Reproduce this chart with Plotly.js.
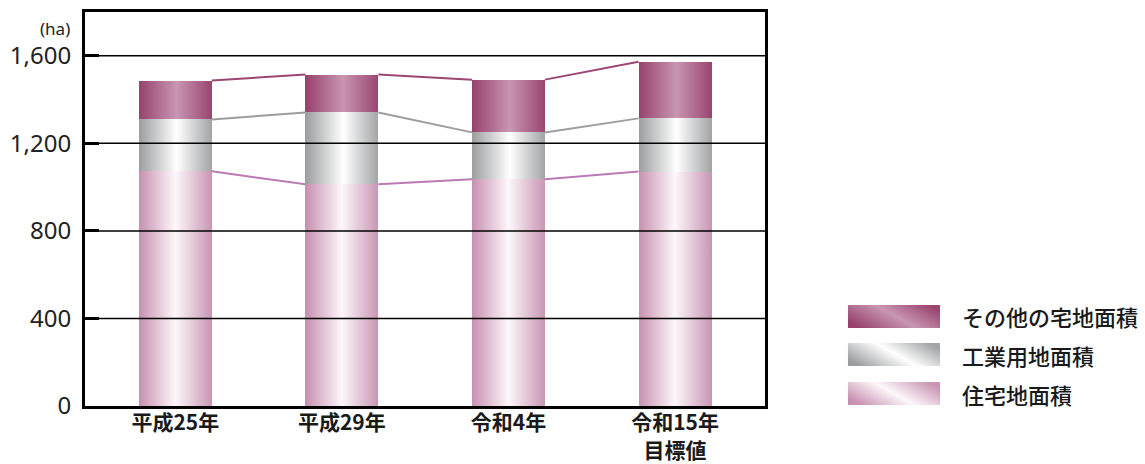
<!DOCTYPE html>
<html>
<head>
<meta charset="utf-8">
<script src="https://cdn.plot.ly/plotly-3.0.1.min.js"></script>
<style>
  html, body { margin: 0; padding: 0; background: #fff; }
  #chart { width: 1145px; height: 464px; }
</style>
</head>
<body>
<div id="chart"></div>
<script>
// ---- data ----
const categories = ['平成25年', '平成29年', '令和4年', '令和15年<br>目標値'];
const seriesNames = ['住宅地面積', '工業用地面積', 'その他の宅地面積'];
const residential = [1072, 1013, 1036, 1071];
const industrial = [237, 328, 214, 243];
const other = [178, 173, 241, 259];
const yTickVals = [0, 400, 800, 1200, 1600];

// ---- style ----
const barWidth = 0.438;
const baseColors = ['#d6a9c4', '#c4c6c8', '#ad5d87'];
const lineColors = ['#bb7ab6', '#9b9d9f', '#9b4673'];
const gradStops = [
  [[0, '#c78fb0'], [0.5, '#fdf7fa'], [1, '#c896b4']],
  [[0, '#9b9d9f'], [0.52, '#ffffff'], [1, '#a2a4a6']],
  [[0, '#97416d'], [0.52, '#c896b1'], [1, '#9a4570']]
];

const xs = categories.map((c, i) => i);
const series = [residential, industrial, other];

// cumulative tops
const tops = [];
let acc = xs.map(() => 0);
series.forEach(s => { acc = acc.map((v, i) => v + s[i]); tops.push(acc.slice()); });

const traces = [];
series.forEach((s, k) => {
  traces.push({
    type: 'bar', x: xs, y: s, name: seriesNames[k], width: barWidth,
    marker: { color: baseColors[k], line: { width: 0 } },
    hoverinfo: 'skip', showlegend: false
  });
});
// connector lines between bar edges
tops.forEach((t, k) => {
  const lx = [], ly = [];
  for (let i = 0; i < xs.length - 1; i++) {
    lx.push(xs[i] + barWidth / 2, xs[i + 1] - barWidth / 2, null);
    ly.push(t[i], t[i + 1], null);
  }
  traces.push({
    type: 'scatter', mode: 'lines', x: lx, y: ly,
    line: { color: lineColors[k], width: 2 },
    hoverinfo: 'skip', showlegend: false, connectgaps: false
  });
});

// legend swatches (paper coords) + labels
const legendOrder = [2, 1, 0];
const swY = [[0.198, 0.2563], [0.1015, 0.1599], [0.0025, 0.0609]];
const txY = [0.2284, 0.1307, 0.0317];
const shapes = [];
const annotations = [];
legendOrder.forEach((k, j) => {
  shapes.push({
    type: 'rect', xref: 'paper', yref: 'paper',
    x0: 1.122, x1: 1.2574, y0: swY[j][0], y1: swY[j][1],
    fillcolor: baseColors[k], line: { width: 0 }, layer: 'above'
  });
  annotations.push({
    xref: 'paper', yref: 'paper', x: 1.2868, y: txY[j],
    xanchor: 'left', yanchor: 'middle', showarrow: false,
    text: seriesNames[k],
    font: { family: 'Noto Sans CJK JP', size: 22, color: '#1a1a1a', weight: 500 }
  });
});
// gridlines above the bars
yTickVals.filter(v => v > 0).forEach(v => {
  shapes.push({
    type: 'line', xref: 'paper', yref: 'y', x0: 0, x1: 1, y0: v, y1: v,
    line: { color: '#000', width: 1.5 }, layer: 'above'
  });
});
annotations.push({
  xref: 'paper', yref: 'paper', x: -0.0191, y: 0.958,
  xanchor: 'right', yanchor: 'middle', showarrow: false,
  text: '(ha)', font: { family: 'Noto Sans', size: 17, color: '#222' }
});

const layout = {
  width: 1145, height: 464,
  margin: { l: 85, r: 380, t: 12, b: 58 },
  paper_bgcolor: '#fff', plot_bgcolor: '#fff',
  barmode: 'stack', showlegend: false,
  xaxis: {
    type: 'linear', range: [-0.542, 3.540],
    tickvals: xs, ticktext: categories, ticks: '',
    showgrid: false, zeroline: false,
    showline: true, mirror: true, linecolor: '#000', linewidth: 3,
    tickfont: { family: 'Noto Sans CJK JP', size: 21, color: '#1a1a1a', weight: 'bold' },
    ticklabelstandoff: -4
  },
  yaxis: {
    range: [0, 1800], tickvals: yTickVals, tickformat: ',d',
    ticks: 'inside', ticklen: 14, tickwidth: 3, tickcolor: '#000',
    showgrid: false, zeroline: false,
    showline: true, mirror: true, linecolor: '#000', linewidth: 3,
    tickfont: { family: 'Noto Sans', size: 24, color: '#222' },
    ticklabelstandoff: 6
  },
  shapes: shapes,
  annotations: annotations
};

function makeGrad(defs, id, stops, x1, y1, x2, y2) {
  const NS = 'http://www.w3.org/2000/svg';
  let g = defs.querySelector('#' + id);
  if (g) return;
  g = document.createElementNS(NS, 'linearGradient');
  g.setAttribute('id', id);
  g.setAttribute('x1', x1); g.setAttribute('y1', y1);
  g.setAttribute('x2', x2); g.setAttribute('y2', y2);
  stops.forEach(s => {
    const st = document.createElementNS(NS, 'stop');
    st.setAttribute('offset', s[0]);
    st.setAttribute('stop-color', s[1]);
    g.appendChild(st);
  });
  defs.appendChild(g);
}

function applyGradients(gd) {
  const svg = gd.querySelector('.main-svg');
  if (!svg) return;
  let defs = svg.querySelector('defs');
  if (!defs) {
    defs = document.createElementNS('http://www.w3.org/2000/svg', 'defs');
    svg.insertBefore(defs, svg.firstChild);
  }
  gradStops.forEach((st, k) => {
    makeGrad(defs, 'barGrad' + k, st, 0, 0, 1, 0);
    makeGrad(defs, 'legGrad' + k, st, 0, 0.72, 1, 0.28);
  });
  gd.querySelectorAll('.barlayer .trace').forEach((t, k) => {
    t.querySelectorAll('path').forEach(p => {
      p.style.fill = 'url(#barGrad' + k + ')';
      p.style.fillOpacity = 1;
    });
  });
  legendOrder.forEach((k, j) => {
    gd.querySelectorAll('.shapelayer path[data-index="' + j + '"]').forEach(p => {
      p.style.fill = 'url(#legGrad' + k + ')';
      p.style.fillOpacity = 1;
    });
  });
}

const gd = document.getElementById('chart');
Plotly.newPlot(gd, traces, layout, { displayModeBar: false, staticPlot: true }).then(() => {
  applyGradients(gd);
  gd.on('plotly_afterplot', () => applyGradients(gd));
});
</script>
</body>
</html>
